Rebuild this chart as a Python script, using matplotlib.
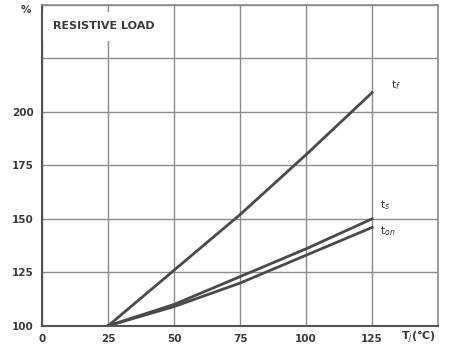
import matplotlib
matplotlib.use("Agg")
import matplotlib.pyplot as plt

# Data
tj = [25, 50, 75, 100, 125]
t_f = [100, 126, 152, 180, 209]
t_s = [100, 110, 123, 136, 150]
t_on = [100, 109, 120, 133, 146]

x_ticks = [0, 25, 50, 75, 100, 125]
y_ticks = [100, 125, 150, 175, 200]

line_col = "#4a4a4a"
grid_col = "#8c8c8c"
text_col = "#3a3a3a"

fig = plt.figure(figsize=(4.53, 3.53), dpi=100)
ax = fig.add_axes([0.093, 0.077, 0.874, 0.909])

ax.set_xlim(0, 150)
ax.set_ylim(100, 250)
ax.set_xticks([0, 25, 50, 75, 100, 125, 150])
ax.set_xticklabels([str(v) for v in x_ticks] + [""])
ax.set_yticks([100, 125, 150, 175, 200, 225, 250])
ax.set_yticklabels([str(v) for v in y_ticks] + ["", ""])
ax.tick_params(length=0, pad=6, labelsize=7.5, colors=text_col)
for lbl in ax.get_xticklabels() + ax.get_yticklabels():
    lbl.set_fontweight("bold")

ax.grid(True, color=grid_col, lw=1.0)
ax.set_axisbelow(True)
for side in ["left", "bottom"]:
    ax.spines[side].set_color("#555555")
    ax.spines[side].set_linewidth(1.5)
for side in ["top", "right"]:
    ax.spines[side].set_color(grid_col)
    ax.spines[side].set_linewidth(1.2)

ax.plot(tj, t_f, color=line_col, lw=2)
ax.plot(tj, t_s, color=line_col, lw=2)
ax.plot(tj, t_on, color=line_col, lw=2)

ax.text(132, t_f[-1] + 2, "t$_f$", fontsize=8, color=text_col)
ax.text(128, t_s[-1] + 5, "t$_s$", fontsize=8, color=text_col)
ax.text(128, t_on[-1] - 3, "t$_{on}$", fontsize=8, color=text_col)

ax.text(4, 240, "RESISTIVE LOAD", fontsize=8, fontweight="bold", color=text_col,
        va="center", ha="left", zorder=2,
        bbox=dict(facecolor="white", edgecolor="none", pad=7))

fig.text(0.045, 0.985, "%", fontsize=7.5, fontweight="bold", color=text_col, va="top")
fig.text(0.885, 0.035, "T$_j$(°C)", fontsize=8, fontweight="bold", color=text_col)

fig.savefig("out.png", dpi=100)
